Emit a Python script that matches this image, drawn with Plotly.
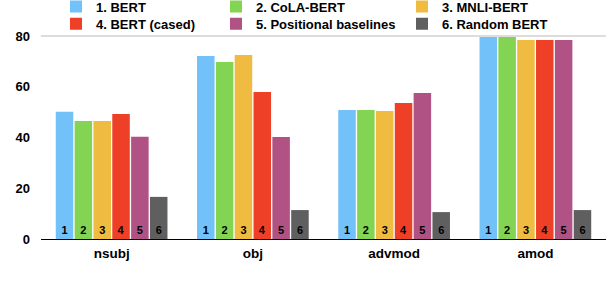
import plotly.graph_objects as go

categories = ["nsubj", "obj", "advmod", "amod"]
series_names = ["1. BERT", "2. CoLA-BERT", "3. MNLI-BERT", "4. BERT (cased)",
                "5. Positional baselines", "6. Random BERT"]
bar_labels = ["1", "2", "3", "4", "5", "6"]
bert = [50.1, 72.1, 50.8, 79.6]
cola_bert = [46.5, 69.8, 50.8, 79.6]
mnli_bert = [46.5, 72.5, 50.4, 78.4]
bert_cased = [49.3, 57.9, 53.6, 78.4]
positional = [40.3, 40.2, 57.5, 78.4]
random_bert = [16.6, 11.4, 10.6, 11.4]
y_ticks = [0, 20, 40, 60, 80]

series_values = [bert, cola_bert, mnli_bert, bert_cased, positional, random_bert]
colors = ["#72C1F9", "#82D452", "#EFBB40", "#EE4027", "#B05283", "#5F5F5F"]
legend_ids = ["legend", "legend2", "legend3", "legend4", "legend5", "legend6"]

FONT = "Liberation Sans"

fig = go.Figure()
for name, vals, col, lab, lg in zip(series_names, series_values, colors, bar_labels, legend_ids):
    fig.add_trace(go.Bar(
        x=categories, y=vals, name=name,
        marker=dict(color=col, line=dict(width=0)),
        text=[lab] * len(vals), textposition="inside", insidetextanchor="start",
        textfont=dict(color="black", size=11, family=FONT, weight="bold"),
        constraintext="none", textangle=0,
        hoverinfo="name+y", legend=lg,
    ))

W, H = 606, 296
ml, mr, mt, mb = 41, 0, 36, 57
pw = W - ml - mr
ph = H - mt - mb

def lx(px):
    return (px - ml) / pw

def ly(py):
    return 1 + (mt - py) / ph

col_x = [56, 216, 402]
row_y = [6.5, 23.7]

leg_common = dict(orientation="v", yanchor="middle", xanchor="left",
                  font=dict(family=FONT, size=13, color="black", weight="bold"),
                  bgcolor="rgba(0,0,0,0)", borderwidth=0, tracegroupgap=0,
                  itemclick=False)

legends = {}
for i, lg in enumerate(legend_ids):
    r, c = divmod(i, 3)
    legends[lg] = dict(x=lx(col_x[c]), y=ly(row_y[r]), **leg_common)

fig.update_layout(
    width=W, height=H,
    margin=dict(l=ml, r=mr, t=mt, b=mb, autoexpand=False),
    paper_bgcolor="white", plot_bgcolor="white",
    barmode="group", bargap=0.2, bargroupgap=0.07,
    font=dict(family=FONT, size=13, color="black"),
    showlegend=True,
    xaxis=dict(showgrid=False, showline=True, linecolor="black", linewidth=1.3,
               ticks="", ticklabelstandoff=2,
               tickfont=dict(family=FONT, size=13.5, color="black", weight="bold"),
               zeroline=False),
    yaxis=dict(range=[0, 80], tickvals=y_ticks, showgrid=False, zeroline=False,
               showline=False, ticks="", ticklabelstandoff=10,
               tickfont=dict(family=FONT, size=13, color="black", weight="bold")),
    shapes=[dict(type="line", xref="paper", yref="paper", x0=0, x1=1, y0=1, y1=1,
                 line=dict(color="#BBBBBB", width=1), layer="below")],
    **legends,
)

fig.write_html("out.html",
               config={"displayModeBar": False},
               post_script="document.body.style.margin='0';document.body.style.overflow='hidden';")
